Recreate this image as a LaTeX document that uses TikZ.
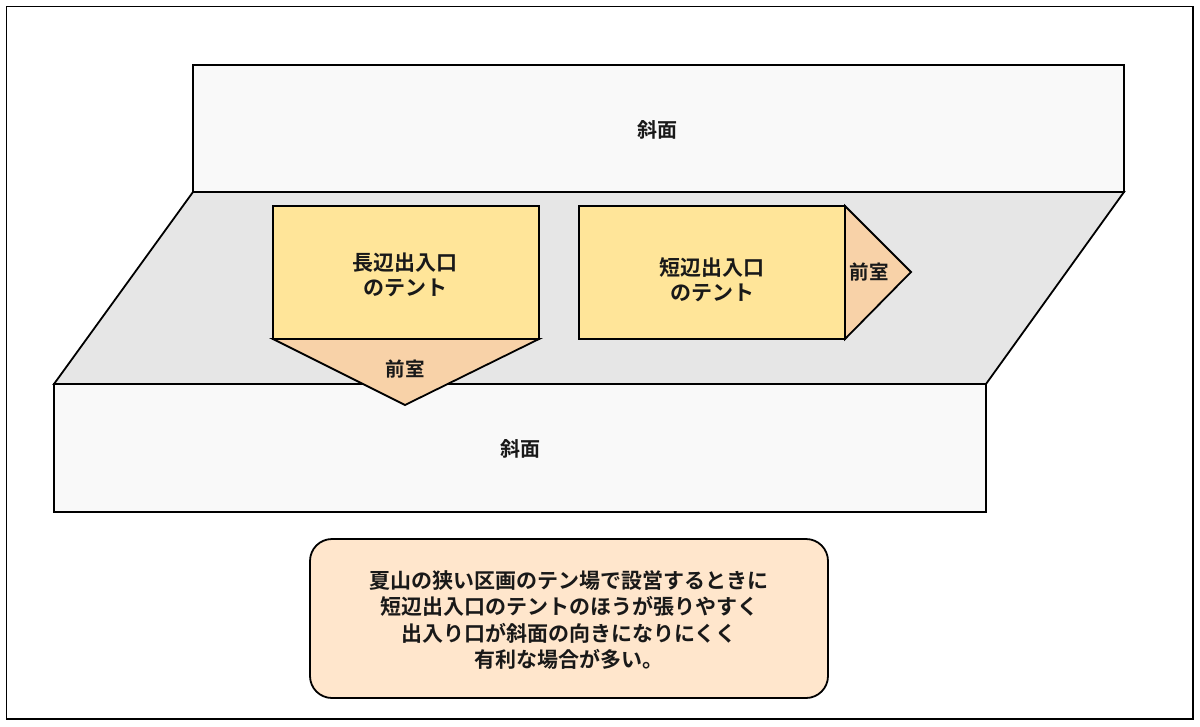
\documentclass[tikz,border=0pt]{standalone}
\usepackage{fontspec}
\newfontfamily\jp{Noto Sans CJK JP Bold}
\definecolor{slopefill}{HTML}{F9F9F9}
\definecolor{floorfill}{HTML}{E6E6E6}
\definecolor{tentfill}{HTML}{FFE599}
\definecolor{vestfill}{HTML}{F8D2A8}
\definecolor{notefill}{HTML}{FFE6CC}
\begin{document}
\begin{tikzpicture}[x=1pt,y=-1pt,
  outline/.style={draw=black,line width=1.8pt,line join=miter},
  lbl/.style={font=\jp\fontsize{20}{24}\selectfont,text=black!90,inner sep=0pt,align=center},
  vestlbl/.style={font=\jp\fontsize{19.5}{23}\selectfont,text=black!90,inner sep=0pt,align=center},
  tentlbl/.style={font=\jp\fontsize{21}{24.5}\selectfont,text=black!90,inner sep=0pt,align=center},
  notelbl/.style={font=\jp\fontsize{21}{26.3}\selectfont,text=black!90,inner sep=0pt,align=center}]
\useasboundingbox (0,0) rectangle (1200,726);
\fill[white] (0,0) rectangle (1200,726);
% outer frame
\draw[outline] (6.5,6.5) rectangle (1193,719);
% top slope
\draw[outline,fill=slopefill] (193,65) rectangle (1124,192);
% floor
\draw[outline,fill=floorfill] (193,192) -- (1124,192) -- (986,384) -- (54,384) -- cycle;
% bottom slope
\draw[outline,fill=slopefill] (54,384) rectangle (986,512);
% long tent vestibule
\draw[outline,fill=vestfill] (273,339) -- (539,339) -- (405,405) -- cycle;
% long tent
\draw[outline,fill=tentfill] (273,206) rectangle (539,339);
% short tent vestibule
\draw[outline,fill=vestfill] (845,206) -- (911,272) -- (845,339) -- cycle;
% short tent
\draw[outline,fill=tentfill] (579,206) rectangle (845,339);
% note box
\draw[outline,fill=notefill,rounded corners=22pt] (310,539) rectangle (828,698);
% labels
\node[lbl] (slopeTop) at (657,130) {斜面};
\node[lbl] (slopeBottom) at (520,449) {斜面};
\node[tentlbl] (longTent) at (405,275) {長辺出入口\\のテント};
\node[tentlbl] (shortTent) at (712,280) {短辺出入口\\のテント};
\node[vestlbl] (vestLong) at (405,369) {前室};
\node[vestlbl] (vestShort) at (869,272) {前室};
\node[notelbl] (note) at (569,620) {夏山の狭い区画のテン場で設営するときに\\短辺出入口のテントのほうが張りやすく\\出入り口が斜面の向きになりにくく\\有利な場合が多い。};
\end{tikzpicture}
\end{document}
